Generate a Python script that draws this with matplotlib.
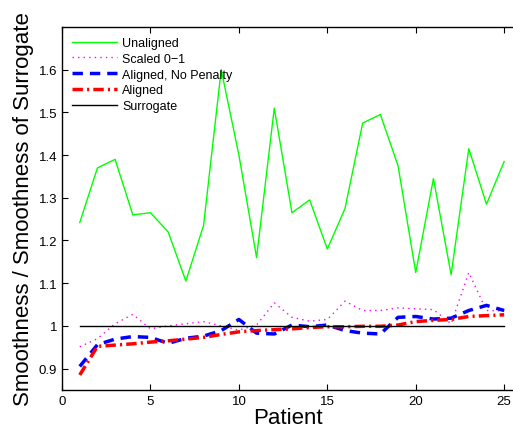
import numpy as np
import matplotlib.pyplot as plt

plt.rcParams['font.family'] = ['Liberation Sans', 'DejaVu Sans']

patients = np.arange(1, 26)
unaligned = [1.242, 1.37, 1.39, 1.26, 1.265, 1.22, 1.105, 1.235, 1.60, 1.40,
             1.16, 1.51, 1.265, 1.295, 1.18, 1.275, 1.475, 1.495, 1.375, 1.125,
             1.345, 1.12, 1.415, 1.285, 1.385]
scaled = [0.951, 0.97, 1.005, 1.027, 0.993, 1.0, 1.005, 1.01, 1.0, 0.99,
          1.002, 1.054, 1.02, 1.011, 1.015, 1.058, 1.036, 1.036, 1.042, 1.04,
          1.038, 1.005, 1.125, 1.036, 1.035]
aligned_np = [0.905, 0.956, 0.969, 0.975, 0.973, 0.959, 0.971, 0.976, 0.989, 1.015,
              0.983, 0.981, 1.002, 0.998, 1.002, 0.989, 0.983, 0.981, 1.02, 1.022,
              1.016, 1.018, 1.036, 1.048, 1.036]
aligned = [0.885, 0.952, 0.955, 0.958, 0.962, 0.965, 0.969, 0.973, 0.98, 0.986,
           0.989, 0.991, 0.993, 0.996, 0.998, 0.998, 0.999, 0.999, 1.002, 1.01,
           1.013, 1.015, 1.022, 1.024, 1.026]
surrogate = [1.0] * 25

yticks = [0.9, 1.0, 1.1, 1.2, 1.3, 1.4, 1.5, 1.6]
yticklabels = ["0.9", "1", "1.1", "1.2", "1.3", "1.4", "1.5", "1.6"]
xticks = [0, 5, 10, 15, 20, 25]

fig = plt.figure(figsize=(5.13, 4.31), dpi=100)
ax = fig.add_axes([0.121, 0.093, 0.879, 0.842])

ax.plot(patients, unaligned, color=(0, 1, 0), lw=1.0, label="Unaligned")
ax.plot(patients, scaled, color=(1, 0, 1), lw=1.0, ls=(0, (1, 3)), label="Scaled 0\u22121")
ax.plot(patients, aligned_np, color=(0, 0, 1), lw=2.5, ls=(0, (3, 2)), label="Aligned, No Penalty")
ax.plot(patients, aligned, color=(1, 0, 0), lw=2.5, ls=(0, (3, 1.2, 0.6, 1.2)), label="Aligned")
ax.plot(patients, surrogate, color="black", lw=1.0, label="Surrogate")

ax.set_xlim(0, 25.5)
ax.set_ylim(0.85, 1.70)
ax.set_xticks(xticks)
ax.set_yticks(yticks)
ax.set_yticklabels(yticklabels)
ax.tick_params(direction="in", labelsize=9.5, top=True, right=False, length=4)
ax.spines["right"].set_visible(False)
for s in ax.spines.values():
    s.set_linewidth(1.0)

ax.set_xlabel("Patient", fontsize=16, labelpad=0)
ax.set_ylabel("Smoothness / Smoothness of Surrogate", fontsize=16, labelpad=3)

ax.legend(loc="upper left", frameon=False, fontsize=9, handlelength=3.6,
          handletextpad=0.4, labelspacing=0.3, borderaxespad=0.4)

fig.savefig("out.png", dpi=100)
